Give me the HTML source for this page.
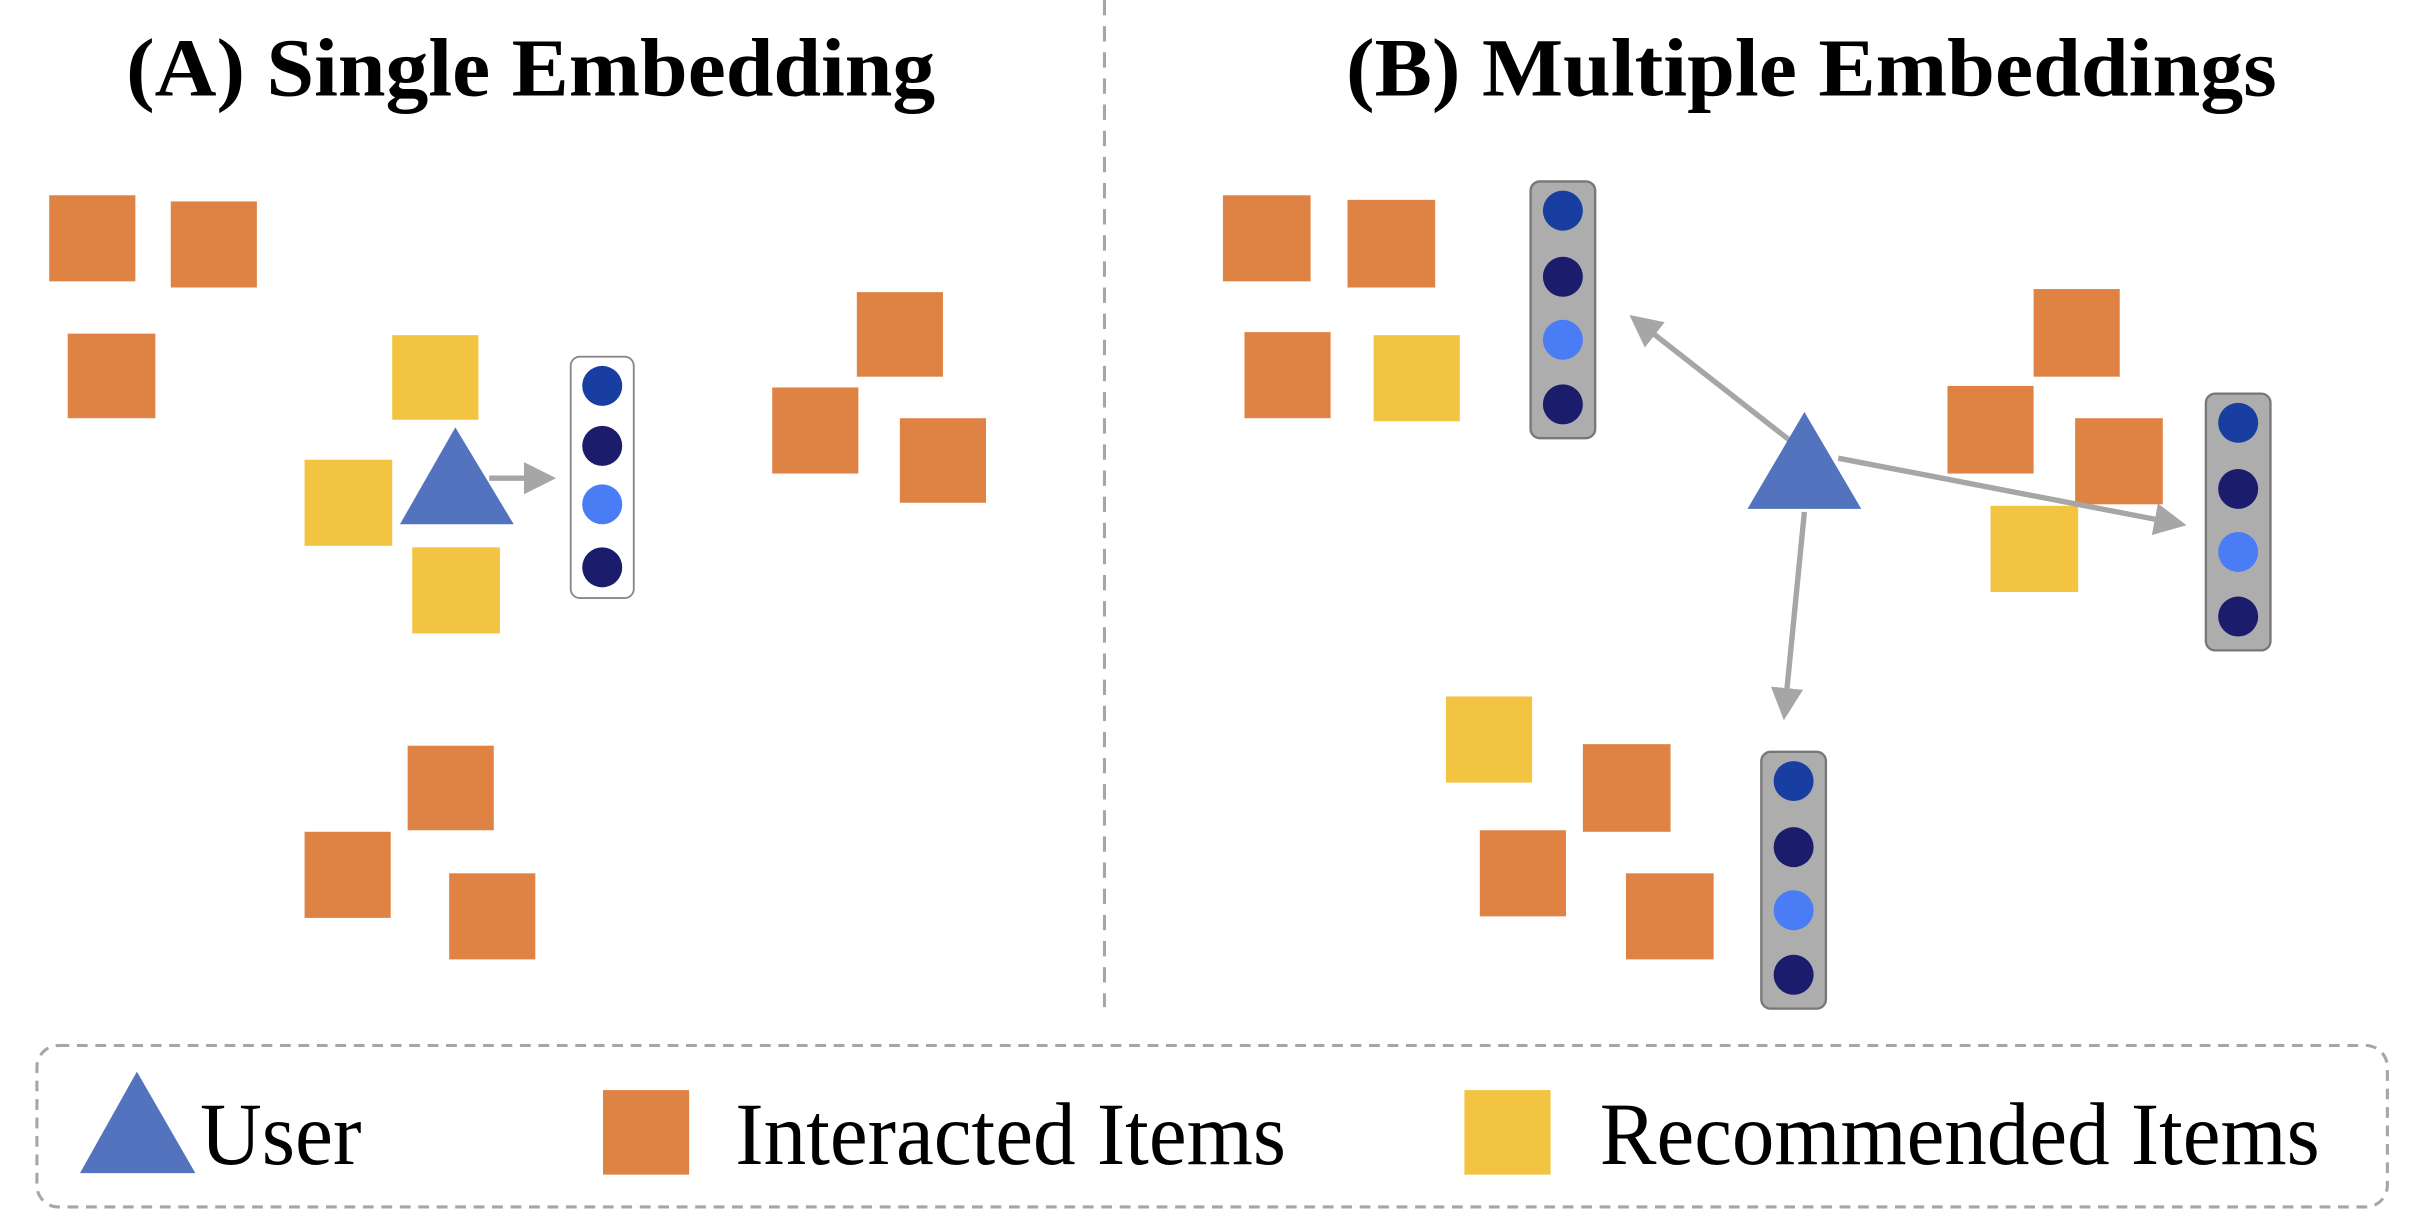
<!DOCTYPE html>
<html><head><meta charset="utf-8"><style>html,body{margin:0;padding:0;background:#fff}svg{display:block}</style></head>
<body>
<svg width="2412" height="1230" viewBox="0 0 1568 800" preserveAspectRatio="none" xmlns="http://www.w3.org/2000/svg">
<defs>
<marker id="ah" markerWidth="6" markerHeight="6" refX="5" refY="3" orient="auto" markerUnits="strokeWidth">
<path d="M0,0 L6,3 L0,6 z" fill="#A6A6A6"/></marker>
<g id="vw"><rect x="0" y="0" width="41" height="157" rx="6" fill="#fff" stroke="#888" stroke-width="1.2"/>
<circle cx="20.5" cy="19" r="13" fill="#173EA0"/><circle cx="20.5" cy="58" r="13" fill="#1B1C6B"/><circle cx="20.5" cy="96" r="13" fill="#4A7DF5"/><circle cx="20.5" cy="137" r="13" fill="#1B1C6B"/></g>
<g id="vg"><rect x="0" y="0" width="42" height="167" rx="6" fill="#ADADAD" stroke="#777" stroke-width="1.5"/>
<circle cx="21" cy="19" r="13" fill="#173EA0"/><circle cx="21" cy="62" r="13" fill="#1B1C6B"/><circle cx="21" cy="103" r="13" fill="#4A7DF5"/><circle cx="21" cy="145" r="13" fill="#1B1C6B"/></g>
</defs>
<g font-family="Liberation Serif, serif" font-weight="bold" font-size="54" fill="#000">
<text x="82" y="62" textLength="526" lengthAdjust="spacingAndGlyphs">(A) Single Embedding</text>
<text x="875" y="62" textLength="605" lengthAdjust="spacingAndGlyphs">(B) Multiple Embeddings</text>
</g>
<line x1="718" y1="0" x2="718" y2="655" stroke="#A6A6A6" stroke-width="2" stroke-dasharray="10,7"/>
<g fill="#DF8345">
<rect x="32" y="127" width="56" height="56"/><rect x="111" y="131" width="56" height="56"/><rect x="44" y="217" width="57" height="55"/>
<rect x="557" y="190" width="56" height="55"/><rect x="502" y="252" width="56" height="56"/><rect x="585" y="272" width="56" height="55"/>
<rect x="265" y="485" width="56" height="55"/><rect x="198" y="541" width="56" height="56"/><rect x="292" y="568" width="56" height="56"/>
<rect x="795" y="127" width="57" height="56"/><rect x="876" y="130" width="57" height="57"/><rect x="809" y="216" width="56" height="56"/>
<rect x="1322" y="188" width="56" height="57"/><rect x="1266" y="251" width="56" height="57"/><rect x="1349" y="272" width="57" height="56"/>
<rect x="1029" y="484" width="57" height="57"/><rect x="962" y="540" width="56" height="56"/><rect x="1057" y="568" width="57" height="56"/>
<rect x="392" y="709" width="56" height="55"/>
</g>
<g fill="#F3C342">
<rect x="255" y="218" width="56" height="55"/><rect x="198" y="299" width="57" height="56"/><rect x="268" y="356" width="57" height="56"/>
<rect x="893" y="218" width="56" height="56"/><rect x="1294" y="329" width="57" height="56"/><rect x="940" y="453" width="56" height="56"/>
<rect x="952" y="709" width="56" height="55"/>
</g>
<g stroke="#A6A6A6" stroke-width="3.5" fill="none" marker-end="url(#ah)">
<line x1="318" y1="311" x2="358" y2="311"/>
<line x1="1163" y1="286" x2="1062" y2="207"/>
<line x1="1195" y1="298" x2="1418" y2="341"/>
<line x1="1173" y1="333" x2="1160" y2="465"/>
</g>
<g fill="#5373BF">
<polygon points="296,278 334,341 260,341"/>
<polygon points="1173,268 1210,331 1136,331"/>
<polygon points="89,697 127,763 52,763"/>
</g>
<use href="#vw" x="371" y="232"/>
<use href="#vg" x="995" y="118"/>
<use href="#vg" x="1434" y="256"/>
<use href="#vg" x="1145" y="489"/>
<rect x="24" y="680" width="1528" height="105" rx="14" fill="none" stroke="#A6A6A6" stroke-width="2" stroke-dasharray="7,5"/>
<g font-family="Liberation Serif, serif" font-size="58" fill="#000">
<text x="130" y="757" textLength="105" lengthAdjust="spacingAndGlyphs">User</text>
<text x="478" y="757" textLength="358" lengthAdjust="spacingAndGlyphs">Interacted Items</text>
<text x="1040" y="757" textLength="468" lengthAdjust="spacingAndGlyphs">Recommended Items</text>
</g>
</svg>
</body></html>
